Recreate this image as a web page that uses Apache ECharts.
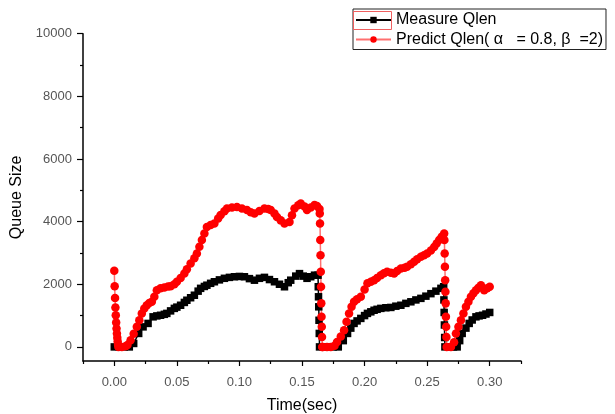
<!DOCTYPE html>
<html>
<head>
<meta charset="utf-8">
<script src="https://cdn.jsdelivr.net/npm/echarts@6/dist/echarts.min.js"></script>
<style>
html,body{margin:0;padding:0;background:#fff;}
#chart{width:615px;height:414px;}
</style>
</head>
<body>
<div id="chart"></div>
<script>
// ---- data ----
var measTime = [0.000,0.004,0.008,0.012,0.0155,0.0195,0.023,0.027,0.031,0.034,0.037,0.040,0.042,0.045,0.048,0.050,0.053,0.056,0.058,0.061,0.064,0.067,0.069,0.072,0.074,0.077,0.080,0.084,0.088,0.092,0.096,0.100,0.104,0.108,0.112,0.116,0.120,0.124,0.128,0.132,0.136,0.139,0.141,0.145,0.148,0.151,0.154,0.157,0.160,0.1628,
  0.1630,0.1632,0.1634,0.1636,0.1638,0.1640,
  0.167,0.171,0.175,0.179,0.183,0.1864,0.189,0.1916,0.194,0.197,0.200,0.2023,0.205,0.2076,0.210,0.213,0.217,0.221,0.225,0.229,0.233,0.237,0.241,0.245,0.249,0.253,0.257,0.261,0.2632,
  0.2634,0.2636,0.2638,0.2640,0.2642,
  0.268,0.271,0.274,0.276,0.278,0.281,0.2836,0.286,0.289,0.2915,0.2943,0.297,0.300];
var measQlen = [0,0,0,0,110,430,640,750,960,990,1010,1040,1070,1150,1230,1270,1330,1420,1490,1570,1650,1780,1870,1930,1970,2030,2080,2140,2190,2220,2240,2250,2240,2180,2130,2190,2220,2150,2080,2000,1920,2050,2130,2260,2340,2260,2190,2240,2290,2290,
  1920,1600,1280,850,430,0,
  0,0,0,0,200,430,600,750,830,910,1000,1070,1120,1170,1200,1230,1250,1260,1300,1330,1390,1440,1500,1550,1620,1700,1780,1870,1920,
  1500,1100,700,300,0,
  0,0,0,200,430,600,750,860,960,990,1010,1050,1100];

var predTime = [0.0000,0.0003,0.0006,0.0009,0.0012,0.0015,0.0018,0.0021,0.0024,0.0027,0.0030,0.0033,
  0.006,0.009,0.0105,0.013,0.0155,0.018,0.020,0.022,0.024,0.026,0.028,0.030,0.032,0.034,0.037,0.040,0.043,0.045,0.048,0.050,0.053,0.056,0.058,0.061,0.064,0.066,0.068,0.070,0.072,0.074,0.077,0.080,0.083,0.085,0.088,0.090,0.094,0.098,0.102,0.106,0.109,0.112,0.116,0.120,0.123,0.125,0.128,0.130,0.133,0.136,0.140,0.142,0.144,0.147,0.149,0.152,0.154,0.157,0.160,0.162,0.1640,
  0.1642,0.1644,0.1646,0.1648,0.1650,0.1652,0.1654,0.1656,0.1658,0.1660,0.1662,
  0.1665,0.170,0.173,0.176,0.178,0.181,0.1836,0.1856,0.1876,0.1896,0.1916,0.194,0.197,0.200,0.2023,0.205,0.2076,0.210,0.213,0.2155,0.218,0.221,0.2236,0.226,0.229,0.232,0.234,0.237,0.2396,0.242,0.245,0.2475,0.250,0.253,0.2556,0.2576,0.2596,0.2616,0.2636,
  0.2638,0.2640,0.2642,0.2644,0.2646,0.2648,0.2650,0.2652,0.2654,0.2656,
  0.269,0.2715,0.273,0.275,0.277,0.279,0.281,0.283,0.285,0.287,0.289,0.291,0.293,0.2956,0.298,0.300];
var predQlen = [2430,1940,1565,1260,1010,780,590,430,290,170,70,0,
  0,20,60,210,420,640,850,1070,1230,1330,1400,1440,1600,1810,1870,1900,1930,1940,2000,2080,2200,2340,2480,2660,2830,2980,3200,3410,3620,3830,3890,3940,4100,4210,4330,4420,4450,4470,4420,4370,4300,4260,4340,4420,4400,4370,4260,4150,4040,3940,3990,4200,4420,4520,4580,4480,4370,4450,4530,4500,4400,
  4260,3940,3410,2930,2400,1920,1390,960,640,320,0,
  0,0,0,40,160,330,530,800,1070,1280,1440,1520,1600,1830,2030,2080,2130,2200,2290,2350,2400,2370,2340,2420,2500,2530,2560,2640,2720,2800,2880,2930,2980,3080,3190,3300,3410,3520,3620,
  3410,2980,2560,2130,1760,1390,960,640,320,0,
  0,150,430,640,850,1070,1280,1440,1600,1710,1810,1890,1970,1810,1870,1920];

var xLabelTicks = [0,0.05,0.10,0.15,0.20,0.25,0.30];
var xMinorTicks = [-0.025,0.025,0.075,0.125,0.175,0.225,0.275,0.325];
var yLabelTicks = [0,2000,4000,6000,8000,10000];
var yMinorTicks = [1000,3000,5000,7000,9000];

var seriesNames = ['Measure Qlen', 'Predict Qlen( \u03b1   = 0.8, \u03b2  =2)'];

function pairs(ts, vs) {
  var out = [];
  for (var i = 0; i < ts.length; i++) out.push([ts[i], vs[i]]);
  return out;
}

var FONT = '"Liberation Sans", Arial, sans-serif';
var chart = echarts.init(document.getElementById('chart'), null, {renderer: 'canvas'});

var axisLineStyle = {color: '#000', width: 1.5};

chart.setOption({
  animation: false,
  backgroundColor: '#fff',
  grid: {left: 83, right: 94, top: 33.7, bottom: 53, containLabel: false, outerBoundsMode: 'none'},
  legend: {
    orient: 'vertical',
    left: 353, top: 9,
    padding: [3, 3, 2, 2],
    itemGap: 3.5,
    itemWidth: 35, itemHeight: 8,
    borderColor: '#222', borderWidth: 1,
    textStyle: {fontFamily: FONT, fontSize: 16, color: '#000', lineHeight: 16},
    data: seriesNames
  },
  xAxis: [{
    type: 'value', min: -0.025, max: 0.325, position: 'bottom', offset: 0,
    name: 'Time(sec)', nameLocation: 'middle', nameGap: 37,
    nameTextStyle: {fontFamily: FONT, fontSize: 16, color: '#000'},
    axisLine: {show: true, onZero: false, lineStyle: axisLineStyle},
    axisTick: {show: true, inside: false, length: 5, lineStyle: {color: '#000', width: 1.2}, customValues: xLabelTicks},
    axisLabel: {show: true, margin: 15, fontFamily: FONT, fontSize: 13, color: '#555', customValues: xLabelTicks,
      formatter: function (v) { return v.toFixed(2); }},
    splitLine: {show: false}
  }, {
    type: 'value', min: -0.025, max: 0.325, position: 'bottom', offset: 0,
    axisLine: {show: false, onZero: false},
    axisTick: {show: true, inside: false, length: 3, lineStyle: {color: '#000', width: 1.2}, customValues: xMinorTicks},
    axisLabel: {show: false},
    splitLine: {show: false}
  }],
  yAxis: [{
    type: 'value', min: -450, max: 10000, position: 'left', offset: 0,
    name: 'Queue Size', nameLocation: 'middle', nameGap: 48,
    nameTextStyle: {fontFamily: FONT, fontSize: 16, color: '#000'},
    axisLine: {show: true, onZero: false, lineStyle: axisLineStyle},
    axisTick: {show: true, inside: false, length: 6, lineStyle: {color: '#000', width: 1.2}, customValues: yLabelTicks},
    axisLabel: {show: true, margin: 11, fontFamily: FONT, fontSize: 13, color: '#555', customValues: yLabelTicks,
      formatter: function (v) { return String(v); }},
    splitLine: {show: false}
  }, {
    type: 'value', min: -450, max: 10000, position: 'left', offset: 0,
    axisLine: {show: false, onZero: false},
    axisTick: {show: true, inside: false, length: 3, lineStyle: {color: '#000', width: 1.2}, customValues: yMinorTicks},
    axisLabel: {show: false},
    splitLine: {show: false}
  }],
  graphic: {
    elements: [{
      type: 'rect', z: 100, silent: true,
      shape: {x: 353.5, y: 11.5, width: 38, height: 18},
      style: {fill: null, stroke: '#f06060', lineWidth: 1}
    }]
  },
  series: [{
    name: seriesNames[0], type: 'line', xAxisIndex: 0, yAxisIndex: 0,
    data: pairs(measTime, measQlen),
    symbol: 'rect', symbolSize: 7.5, showSymbol: true, showAllSymbol: true,
    lineStyle: {color: '#000', width: 1.5},
    itemStyle: {color: '#000'},
    emphasis: {disabled: true}
  }, {
    name: seriesNames[1], type: 'line', xAxisIndex: 0, yAxisIndex: 0,
    data: pairs(predTime, predQlen),
    symbol: 'circle', symbolSize: 8.5, showSymbol: true, showAllSymbol: true,
    lineStyle: {color: '#ff7070', width: 1.5},
    itemStyle: {color: '#ff0000'},
    emphasis: {disabled: true}
  }]
});
</script>
</body>
</html>
